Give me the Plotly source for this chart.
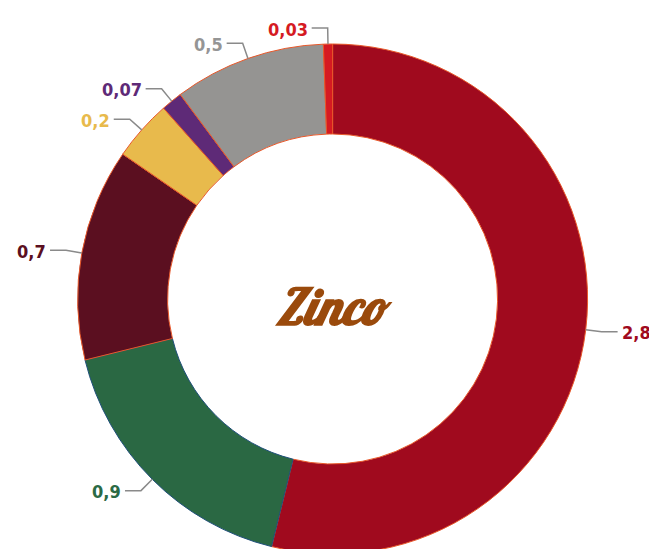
import math
import plotly.graph_objects as go

labels = ["A", "B", "C", "D", "E", "F", "G"]
values = [2.8, 0.9, 0.7, 0.2, 0.07, 0.5, 0.03]
value_text = ["2,8", "0,9", "0,7", "0,2", "0,07", "0,5", "0,03"]
colors = ["#A00A1E", "#2A6843", "#5B0F20", "#E8BA4C", "#5E2A77", "#959492", "#D51A22"]
border_colors = ["#E8582A", "#1F4F7A", "#E8582A", "#E8582A", "#E8582A", "#E8582A", "#E8582A"]
label_colors = ["#A00A1E", "#2B6A45", "#5B0F20", "#E8BA4C", "#5E2A77", "#959595", "#D51A22"]
title_text = "Zinco"

# page body has an 8px margin, so the figure is drawn 8px right/down
OFF = 8
R = 255.0
CX = 332.6 - OFF          # figure coords
CY = 299.0 - OFF
W = 657 - OFF
H = int(round(CY + R))     # ring bottom slightly below the window, as in the reference
dom_x = [(CX - R) / W, (CX + R) / W]
dom_y = [0.0, 2 * R / H]

fig = go.Figure(go.Pie(
    labels=labels, values=values, hole=0.647, sort=False, direction="clockwise",
    rotation=0, textinfo="none", hoverinfo="label+value",
    marker=dict(colors=colors, line=dict(color=border_colors, width=1)),
    domain=dict(x=dom_x, y=dom_y), showlegend=False,
))

cx, cy = CX, CY

def to_paper(px, py):
    return px / W, 1 - py / H

total = sum(values)
cum = 0.0
shapes = []
annotations = []
for v, t, c in zip(values, value_text, label_colors):
    mid = (cum + v / 2) / total * 2 * math.pi
    cum += v
    sx, sy = cx + R * math.sin(mid), cy - R * math.cos(mid)
    ex, ey = cx + (R + 16) * math.sin(mid), cy - (R + 16) * math.cos(mid)
    side = 1 if math.sin(mid) > 0 else -1
    hx = ex + side * 16
    x0, y0 = to_paper(sx, sy)
    x1, y1 = to_paper(ex, ey)
    x2, y2 = to_paper(hx, ey)
    shapes.append(dict(type="path", xref="paper", yref="paper",
                       path=f"M {x0} {y0} L {x1} {y1} L {x2} {y2}",
                       line=dict(color="#8A8A8A", width=1.5)))
    tx, ty = to_paper(hx + side * 3, ey + 1)
    annotations.append(dict(
        x=tx, y=ty, xref="paper", yref="paper",
        text=f"<span style=\"font-stretch:condensed\"><b>{t}</b></span>",
        showarrow=False, xanchor="left" if side > 0 else "right", yanchor="middle",
        borderpad=0,
        font=dict(family="DejaVu Sans Condensed, DejaVu Sans, sans-serif", size=18, color=c)))

tx, ty = to_paper(333 - OFF, 306 - OFF)
annotations.append(dict(x=tx, y=ty, xref="paper", yref="paper", text=f"<b><i>{title_text}</i></b>",
                        showarrow=False, xanchor="center", yanchor="middle",
                        font=dict(family="Lobster, DejaVu Serif, serif", size=50, color="#9A4A0C")))

fig.update_layout(width=W, height=H, margin=dict(l=0, r=0, t=0, b=0),
                  paper_bgcolor="white", plot_bgcolor="white",
                  shapes=shapes, annotations=annotations)
fig.write_html("out.html")
